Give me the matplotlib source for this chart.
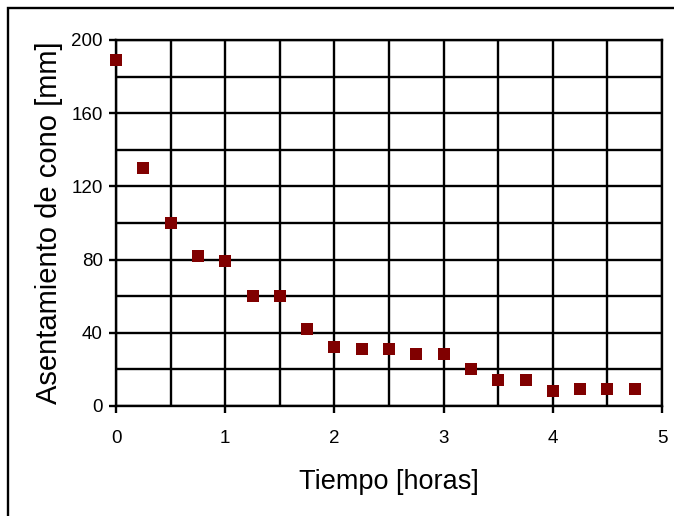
import matplotlib
matplotlib.use("Agg")
import matplotlib.pyplot as plt
from matplotlib.patches import Rectangle
from matplotlib.ticker import MultipleLocator

tiempo = [0, 0.25, 0.5, 0.75, 1.0, 1.25, 1.5, 1.75, 2.0, 2.25,
          2.5, 2.75, 3.0, 3.25, 3.5, 3.75, 4.0, 4.25, 4.5, 4.75]
asentamiento = [189, 130, 100, 82, 79, 60, 60, 42, 32, 31,
                31, 28.5, 28.5, 20, 14, 14, 8, 9.5, 9.5, 9.5]
xlabel = "Tiempo [horas]"
ylabel = "Asentamiento de cono [mm]"

plt.rcParams['font.family'] = ['Liberation Sans', 'DejaVu Sans']

W, H = 674, 516
fig = plt.figure(figsize=(W / 100, H / 100), dpi=100)
ax = fig.add_axes([116 / W, 1 - 406 / H, 546 / W, 366 / H])

ax.plot(tiempo, asentamiento, linestyle='none', marker='s', markersize=8.2,
        color='#800000', markeredgewidth=0, clip_on=False, zorder=5)

ax.set_xlim(0, 5)
ax.set_ylim(0, 200)
ax.xaxis.set_major_locator(MultipleLocator(1))
ax.xaxis.set_minor_locator(MultipleLocator(0.5))
ax.yaxis.set_major_locator(MultipleLocator(40))
ax.yaxis.set_minor_locator(MultipleLocator(20))
ax.grid(True, which='both', color='black', linewidth=1.7)
ax.set_axisbelow(True)
for s in ax.spines.values():
    s.set_linewidth(1.7)
    s.set_color('black')
ax.tick_params(axis='x', which='major', length=5, width=1.7, pad=12, labelsize=13.5)
ax.tick_params(axis='y', which='major', length=5, width=1.7, pad=4.5, labelsize=13.5)
ax.tick_params(which='minor', length=0)

fig.text(389 / W, 1 - 482 / H, xlabel, fontsize=19.5, ha='center', va='center')
fig.text(49 / W, 1 - 223 / H, ylabel, fontsize=21, rotation=90,
         ha='center', va='center')

fig.patches.append(Rectangle((8 / W, -0.1), 1.2, 1 - 8 / H + 0.1,
                             transform=fig.transFigure, fill=False,
                             edgecolor='black', linewidth=1.7))

fig.savefig("out.png", dpi=100)
